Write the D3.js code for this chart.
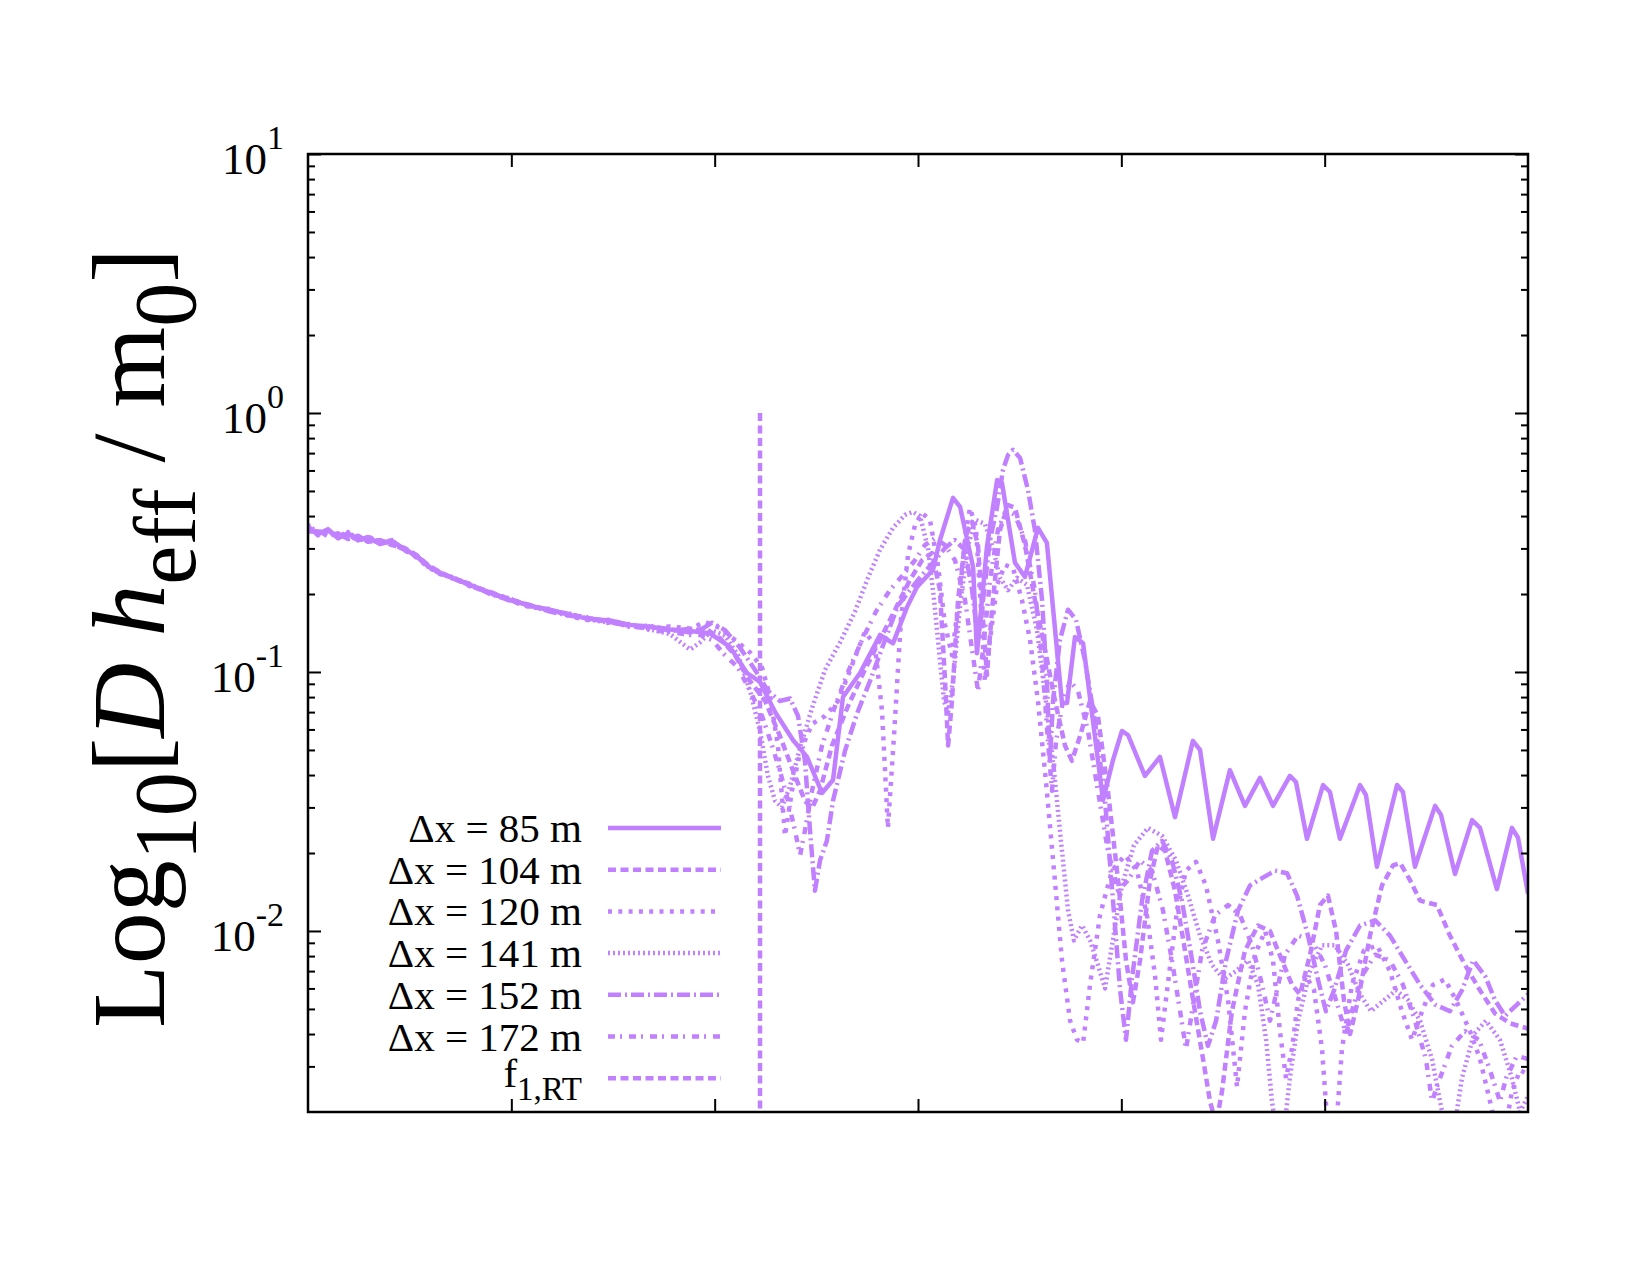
<!DOCTYPE html>
<html>
<head>
<meta charset="utf-8">
<script src="https://cdn.jsdelivr.net/npm/d3@7"></script>
<style>
  body { margin: 0; background: #fff; }
  text { font-family: "Liberation Serif", "Times New Roman", serif; fill: #000; }
</style>
</head>
<body>
<svg id="chart" width="1650" height="1275"></svg>
<script>
// ---- data: [x, D h_eff / m0] ----
const dx85 = [
  [0,0.362],[0.049,0.340],[0.098,0.356],[0.148,0.328],[0.197,0.344],[0.246,0.322],[0.295,0.332],[0.354,0.312],[0.413,0.321],[0.472,0.299],[0.531,0.281],[0.590,0.256],[0.649,0.241],[0.723,0.229],[0.797,0.217],[0.895,0.202],[0.994,0.190],[1.092,0.180],[1.190,0.174],[1.289,0.166],[1.387,0.160],[1.485,0.158],[1.584,0.152],[1.682,0.149],[1.781,0.146],[1.879,0.144],
  [1.977,0.141],[2.075,0.125],[2.159,0.0991],[2.223,0.0915],[2.297,0.0701],[2.385,0.0546],[2.454,0.0470],[2.528,0.0341],[2.582,0.0383],[2.631,0.0801],[2.715,0.0991],[2.813,0.139],[2.877,0.129],[2.946,0.178],[2.995,0.213],[3.074,0.248],[3.108,0.323],[3.172,0.470],[3.207,0.434],[3.271,0.254],[3.290,0.118],[3.339,0.304],[3.389,0.551],[3.413,0.537],[3.477,0.264],[3.526,0.233],[3.590,0.360],[3.634,0.315],[3.708,0.0759],[3.733,0.0759],[3.772,0.1365],[3.812,0.129],[3.910,0.0320],[3.959,0.0457],[4.003,0.0592],[4.033,0.0571],[4.116,0.0397],[4.190,0.0470],[4.264,0.0275],[4.352,0.0542],[4.387,0.0500],[4.451,0.0227],[4.534,0.0418],[4.608,0.0304],[4.682,0.0390],[4.746,0.0304],[4.829,0.0397],[4.859,0.0376],[4.913,0.0227],[4.992,0.0366],[5.026,0.0344],[5.075,0.0227],[5.174,0.0366],[5.203,0.0335],[5.257,0.0177],[5.356,0.0366],[5.385,0.0344],[5.444,0.0177],[5.543,0.0304],[5.572,0.0281],[5.641,0.0166],[5.725,0.0268],[5.764,0.0250],[5.847,0.0145],[5.921,0.0250],[5.951,0.0229],[6.0,0.0139]
];
const dx104 = [
  [0,0.348],[0.049,0.352],[0.098,0.334],[0.148,0.343],[0.197,0.326],[0.246,0.336],[0.295,0.318],[0.354,0.323],[0.413,0.309],[0.472,0.302],[0.531,0.284],[0.590,0.259],[0.649,0.243],[0.723,0.228],[0.797,0.216],[0.895,0.204],[0.994,0.191],[1.092,0.181],[1.190,0.173],[1.289,0.167],[1.387,0.161],[1.485,0.156],[1.584,0.151],[1.682,0.150],[1.781,0.146],[1.879,0.142],
  [1.952,0.148],[2.026,0.135],[2.100,0.116],[2.174,0.0923],[2.248,0.0773],[2.321,0.0566],[2.395,0.0397],[2.444,0.0318],[2.479,0.0298],[2.518,0.0348],[2.577,0.0520],[2.656,0.0739],[2.739,0.102],[2.813,0.133],[2.887,0.174],[2.961,0.227],[3.020,0.270],[3.069,0.288],[3.108,0.207],[3.133,0.0923],[3.148,0.0520],[3.167,0.0773],[3.197,0.190],[3.236,0.338],[3.266,0.380],[3.295,0.309],[3.320,0.159],[3.339,0.0973],[3.364,0.174],[3.403,0.353],[3.443,0.441],[3.477,0.430],[3.526,0.309],[3.575,0.190],[3.625,0.122],[3.674,0.0773],[3.723,0.0520],[3.757,0.0454],[3.797,0.0566],[3.846,0.0773],[3.885,0.0676],[3.934,0.0348],[3.984,0.0157],[4.023,0.0077],[4.057,0.0053],[4.092,0.0077],[4.141,0.0157],[4.180,0.0214],[4.215,0.0204],[4.264,0.0143],[4.313,0.0084],[4.362,0.0049],[4.402,0.0032],[4.436,0.0022],[4.466,0.0018],[4.495,0.0024],[4.544,0.0049],[4.608,0.0084],[4.672,0.0105],[4.731,0.0100],[4.790,0.0077],[4.839,0.0062],[4.879,0.0057],[4.928,0.0081],[4.977,0.0126],[5.016,0.0137],[5.056,0.0100],[5.095,0.0054],[5.125,0.0040],[5.164,0.0054],[5.223,0.0096],[5.282,0.0150],[5.336,0.0179],[5.371,0.0183],[5.420,0.0157],[5.469,0.0131],[5.552,0.0126],[5.616,0.0096],[5.690,0.0074],[5.764,0.0059],[5.838,0.0048],[5.912,0.0044],[6.0,0.0042]
];
const dx120 = [
  [0,0.366],[0.049,0.337],[0.098,0.351],[0.148,0.331],[0.197,0.341],[0.246,0.320],[0.295,0.334],[0.354,0.315],[0.413,0.323],[0.472,0.296],[0.531,0.278],[0.590,0.254],[0.649,0.239],[0.723,0.231],[0.797,0.214],[0.895,0.203],[0.994,0.188],[1.092,0.178],[1.190,0.175],[1.289,0.164],[1.387,0.158],[1.485,0.159],[1.584,0.150],[1.682,0.147],[1.781,0.150],[1.879,0.147],
  [1.952,0.156],[2.026,0.148],[2.100,0.133],[2.174,0.119],[2.233,0.104],[2.272,0.0808],[2.311,0.0520],[2.346,0.0233],[2.380,0.0348],[2.420,0.0491],[2.479,0.0630],[2.543,0.0676],[2.607,0.0773],[2.675,0.106],[2.739,0.143],[2.788,0.127],[2.823,0.0707],[2.852,0.0250],[2.882,0.0566],[2.916,0.159],[2.951,0.283],[2.985,0.369],[3.020,0.411],[3.059,0.386],[3.098,0.259],[3.133,0.152],[3.167,0.116],[3.207,0.207],[3.236,0.353],[3.256,0.430],[3.285,0.360],[3.310,0.174],[3.329,0.0923],[3.354,0.133],[3.389,0.217],[3.428,0.259],[3.467,0.252],[3.511,0.190],[3.551,0.133],[3.590,0.0773],[3.629,0.0380],[3.669,0.0171],[3.708,0.0077],[3.748,0.0045],[3.782,0.0038],[3.812,0.0037],[3.846,0.0062],[3.895,0.0115],[3.954,0.0171],[4.018,0.0196],[4.077,0.0171],[4.126,0.0115],[4.166,0.0067],[4.195,0.0038],[4.225,0.0059],[4.274,0.0120],[4.318,0.0171],[4.367,0.0185],[4.416,0.0150],[4.475,0.0092],[4.525,0.0054],[4.569,0.0025],[4.608,0.0049],[4.657,0.0081],[4.707,0.0100],[4.746,0.0077],[4.780,0.0041],[4.810,0.0027],[4.839,0.0035],[4.869,0.0054],[4.908,0.0067],[4.948,0.0059],[4.987,0.0035],[5.016,0.0017],[5.056,0.0017],[5.085,0.0035],[5.134,0.0062],[5.193,0.0084],[5.257,0.0088],[5.321,0.0070],[5.380,0.0049],[5.430,0.0038],[5.479,0.0049],[5.533,0.0062],[5.592,0.0065],[5.646,0.0054],[5.715,0.0041],[5.764,0.0032],[5.813,0.0022],[5.847,0.0017],[5.887,0.0017],[5.921,0.0024],[5.961,0.0029],[6.0,0.0028]
];
const dx141 = [
  [0,0.370],[0.049,0.345],[0.098,0.354],[0.148,0.334],[0.197,0.347],[0.246,0.327],[0.295,0.323],[0.354,0.319],[0.413,0.312],[0.472,0.300],[0.531,0.279],[0.590,0.257],[0.649,0.240],[0.723,0.229],[0.797,0.218],[0.895,0.201],[0.994,0.192],[1.092,0.179],[1.190,0.172],[1.289,0.168],[1.387,0.159],[1.485,0.155],[1.584,0.153],[1.682,0.146],[1.781,0.140],[1.879,0.122],
  [1.928,0.130],[1.987,0.145],[2.051,0.138],[2.115,0.116],[2.174,0.0845],[2.223,0.0592],[2.262,0.0397],[2.297,0.0318],[2.331,0.0300],[2.371,0.0363],[2.420,0.0509],[2.479,0.0726],[2.543,0.102],[2.616,0.130],[2.690,0.171],[2.754,0.231],[2.813,0.296],[2.877,0.360],[2.936,0.404],[2.975,0.415],[3.010,0.400],[3.049,0.301],[3.079,0.190],[3.108,0.111],[3.128,0.0773],[3.148,0.0701],[3.172,0.0923],[3.207,0.181],[3.246,0.309],[3.285,0.386],[3.329,0.373],[3.369,0.301],[3.403,0.231],[3.443,0.207],[3.487,0.231],[3.536,0.217],[3.585,0.145],[3.629,0.0773],[3.669,0.0415],[3.708,0.0204],[3.738,0.0120],[3.767,0.0092],[3.807,0.0105],[3.846,0.0092],[3.885,0.0074],[3.920,0.0060],[3.954,0.0088],[4.003,0.0150],[4.062,0.0214],[4.131,0.0250],[4.200,0.0233],[4.269,0.0187],[4.328,0.0137],[4.387,0.0096],[4.446,0.0074],[4.505,0.0065],[4.564,0.0070],[4.623,0.0077],[4.672,0.0062],[4.712,0.0038],[4.741,0.0022],[4.761,0.0017],[4.800,0.0017],[4.829,0.0027],[4.869,0.0045],[4.928,0.0070],[4.987,0.0088],[5.051,0.0088],[5.115,0.0074],[5.174,0.0057],[5.228,0.0049],[5.292,0.0054],[5.351,0.0059],[5.410,0.0054],[5.469,0.0045],[5.528,0.0032],[5.567,0.0022],[5.597,0.0017],[5.636,0.0017],[5.675,0.0027],[5.734,0.0040],[5.793,0.0045],[5.862,0.0038],[5.921,0.0027],[5.961,0.0020],[6.0,0.0023]
];
const dx152 = [
  [0,0.352],[0.049,0.349],[0.098,0.342],[0.148,0.341],[0.197,0.333],[0.246,0.333],[0.295,0.322],[0.354,0.322],[0.413,0.313],[0.472,0.297],[0.531,0.282],[0.590,0.258],[0.649,0.242],[0.723,0.227],[0.797,0.219],[0.895,0.200],[0.994,0.189],[1.092,0.181],[1.190,0.171],[1.289,0.165],[1.387,0.161],[1.485,0.157],[1.584,0.149],[1.682,0.151],[1.781,0.144],[1.879,0.147],
  [1.928,0.145],[1.987,0.155],[2.051,0.145],[2.125,0.124],[2.198,0.102],[2.262,0.0845],[2.321,0.0773],[2.371,0.0790],[2.410,0.0676],[2.444,0.0454],[2.469,0.0244],[2.493,0.0143],[2.518,0.0187],[2.552,0.0223],[2.582,0.0318],[2.641,0.0496],[2.700,0.0690],[2.764,0.0923],[2.838,0.133],[2.902,0.181],[2.961,0.207],[3.020,0.237],[3.084,0.270],[3.133,0.301],[3.182,0.323],[3.231,0.296],[3.266,0.207],[3.295,0.133],[3.320,0.190],[3.354,0.323],[3.389,0.434],[3.418,0.603],[3.443,0.689],[3.467,0.720],[3.502,0.670],[3.541,0.504],[3.575,0.353],[3.610,0.190],[3.634,0.0923],[3.649,0.0454],[3.664,0.0773],[3.698,0.133],[3.738,0.174],[3.777,0.159],[3.821,0.111],[3.870,0.0647],[3.920,0.0318],[3.959,0.0131],[3.994,0.0059],[4.023,0.0038],[4.052,0.0065],[4.102,0.0131],[4.151,0.0204],[4.200,0.0223],[4.249,0.0187],[4.298,0.0131],[4.348,0.0077],[4.387,0.0049],[4.426,0.0036],[4.466,0.0045],[4.515,0.0077],[4.574,0.0120],[4.633,0.0150],[4.692,0.0160],[4.756,0.0171],[4.815,0.0167],[4.864,0.0137],[4.918,0.0096],[4.967,0.0065],[5.006,0.0049],[5.046,0.0059],[5.105,0.0084],[5.174,0.0105],[5.248,0.0110],[5.321,0.0096],[5.395,0.0077],[5.469,0.0062],[5.543,0.0052],[5.616,0.0049],[5.675,0.0059],[5.730,0.0077],[5.789,0.0067],[5.838,0.0054],[5.887,0.0047],[5.946,0.0052],[6.0,0.0057]
];
const dx172 = [
  [0,0.360],[0.049,0.338],[0.098,0.352],[0.148,0.330],[0.197,0.340],[0.246,0.324],[0.295,0.331],[0.354,0.313],[0.413,0.322],[0.472,0.298],[0.531,0.283],[0.590,0.255],[0.649,0.240],[0.723,0.230],[0.797,0.215],[0.895,0.203],[0.994,0.189],[1.092,0.179],[1.190,0.174],[1.289,0.165],[1.387,0.162],[1.485,0.154],[1.584,0.153],[1.682,0.145],[1.781,0.143],[1.879,0.139],
  [1.928,0.139],[1.987,0.133],[2.051,0.116],[2.115,0.104],[2.174,0.0845],[2.233,0.0676],[2.282,0.0520],[2.321,0.0415],[2.361,0.0318],[2.395,0.0244],[2.420,0.0196],[2.444,0.0244],[2.479,0.0348],[2.528,0.0520],[2.592,0.0739],[2.656,0.100],[2.725,0.133],[2.793,0.171],[2.862,0.207],[2.926,0.237],[2.985,0.270],[3.034,0.309],[3.084,0.329],[3.133,0.309],[3.182,0.270],[3.231,0.190],[3.266,0.122],[3.295,0.0845],[3.320,0.122],[3.354,0.227],[3.393,0.353],[3.433,0.422],[3.477,0.404],[3.526,0.323],[3.575,0.207],[3.610,0.111],[3.639,0.0542],[3.659,0.0348],[3.679,0.0542],[3.713,0.0773],[3.748,0.0923],[3.787,0.0845],[3.836,0.0592],[3.885,0.0348],[3.934,0.0204],[3.984,0.0143],[4.033,0.0157],[4.092,0.0187],[4.151,0.0171],[4.205,0.0120],[4.249,0.0077],[4.289,0.0049],[4.318,0.0035],[4.348,0.0049],[4.397,0.0084],[4.461,0.0115],[4.525,0.0126],[4.584,0.0115],[4.643,0.0088],[4.692,0.0062],[4.731,0.0045],[4.761,0.0057],[4.805,0.0081],[4.869,0.0096],[4.938,0.0092],[5.001,0.0074],[5.056,0.0054],[5.105,0.0040],[5.134,0.0049],[5.184,0.0067],[5.248,0.0081],[5.321,0.0077],[5.385,0.0062],[5.444,0.0045],[5.498,0.0032],[5.528,0.0022],[5.567,0.0027],[5.626,0.0036],[5.690,0.0041],[5.759,0.0038],[5.813,0.0029],[5.862,0.0022],[5.892,0.0027],[5.946,0.0033],[6.0,0.0032]
];
const f1rtX = 2.223;
const f1rtY = [1, 0.002];

const seriesNames = ["85", "104", "120", "141", "152", "172"];
const seriesData = [dx85, dx104, dx120, dx141, dx152, dx172];

const yMajor = [0.01, 0.1, 1, 10];
const yTickExp = ["-2", "-1", "0", "1"];
const xTicks = [1, 2, 3, 4, 5];

// ---- styles ----
const purple = "#c080ff";
const dashes = [null, "8,4.5", "4,6.3", "2,3", "13,4,2,4", "7,5,2,7"];
const f1rtDash = "8,4.5";

const svg = d3.select("#chart");
svg.append("rect").attr("width", 1650).attr("height", 1275).attr("fill", "#fff");

const x = d3.scaleLinear().domain([0, 6]).range([308, 1528]);
const y = d3.scaleLog().domain([0.002, 10]).range([1112, 154]);

svg.append("defs").append("clipPath").attr("id", "plotClip")
  .append("rect")
  .attr("x", x(0)).attr("y", y(10))
  .attr("width", x(6) - x(0)).attr("height", y(0.002) - y(10));

const line = d3.line().x(d => x(d[0])).y(d => y(d[1]));
const plot = svg.append("g").attr("clip-path", "url(#plotClip)");

seriesData.forEach((data, i) => {
  plot.append("path")
    .datum(data)
    .attr("d", line)
    .attr("fill", "none")
    .attr("stroke", purple)
    .attr("stroke-width", 4.5)
    .attr("stroke-linejoin", "round")
    .attr("stroke-dasharray", dashes[i]);
});

// f1,RT marker
plot.append("path")
  .datum(f1rtY.map(v => [f1rtX, v]))
  .attr("d", line)
  .attr("fill", "none")
  .attr("stroke", purple)
  .attr("stroke-width", 4.5)
  .attr("stroke-dasharray", f1rtDash);

// ---- axes ----
const yMinor = [];
[0.001, 0.01, 0.1, 1].forEach(dec => {
  for (let k = 2; k <= 9; k++) {
    const v = k * dec;
    if (v > 0.0021 && v < 10) yMinor.push(v);
  }
});

function styleAxis(g) {
  g.select(".domain").remove();
  g.selectAll(".tick line").attr("stroke", "#000").attr("stroke-width", 2);
  g.selectAll(".tick text").remove();
}

svg.append("g").attr("transform", `translate(${x(0)},0)`)
  .call(d3.axisLeft(y).tickValues(yMajor).tickSize(-13).tickSizeOuter(0).tickFormat("")).call(styleAxis);
svg.append("g").attr("transform", `translate(${x(0)},0)`)
  .call(d3.axisLeft(y).tickValues(yMinor).tickSize(-7).tickSizeOuter(0).tickFormat("")).call(styleAxis);
svg.append("g").attr("transform", `translate(${x(6)},0)`)
  .call(d3.axisRight(y).tickValues(yMajor).tickSize(-13).tickSizeOuter(0).tickFormat("")).call(styleAxis);
svg.append("g").attr("transform", `translate(${x(6)},0)`)
  .call(d3.axisRight(y).tickValues(yMinor).tickSize(-7).tickSizeOuter(0).tickFormat("")).call(styleAxis);
svg.append("g").attr("transform", `translate(0,${y(0.002)})`)
  .call(d3.axisBottom(x).tickValues(xTicks).tickSize(-13).tickSizeOuter(0).tickFormat("")).call(styleAxis);
svg.append("g").attr("transform", `translate(0,${y(10)})`)
  .call(d3.axisTop(x).tickValues(xTicks).tickSize(-13).tickSizeOuter(0).tickFormat("")).call(styleAxis);

// frame
svg.append("rect")
  .attr("x", x(0)).attr("y", y(10))
  .attr("width", x(6) - x(0)).attr("height", y(0.002) - y(10))
  .attr("fill", "none").attr("stroke", "#000").attr("stroke-width", 2.5);

// y tick labels 10^n
svg.append("g").selectAll("text").data(yMajor).join("text")
  .attr("x", x(0) - 24)
  .attr("y", d => y(d) + 20)
  .attr("text-anchor", "end")
  .attr("font-size", 45)
  .each(function(d, i) {
    const t = d3.select(this);
    t.append("tspan").text("10");
    t.append("tspan").attr("dy", -25).attr("font-size", 34).text(yTickExp[i]);
  });

// y axis title
const title = svg.append("text")
  .attr("transform", "translate(164,638) rotate(-90)")
  .attr("text-anchor", "middle")
  .attr("font-size", 104);
title.append("tspan").text("Log");
title.append("tspan").attr("dy", 31).attr("font-size", 88).text("10");
title.append("tspan").attr("dy", -31).text("[");
title.append("tspan").attr("font-style", "italic").text("D h");
title.append("tspan").attr("dy", 31).attr("font-size", 88).text("eff");
title.append("tspan").attr("dy", -31).text(" / m");
title.append("tspan").attr("dy", 31).attr("font-size", 88).text("0");
title.append("tspan").attr("dy", -31).text("]");

// ---- legend ----
const legRowY = d3.range(7).map(i => 828 + i * 41.7);
const legend = svg.append("g");
seriesNames.forEach((name, i) => {
  legend.append("text")
    .attr("x", 582).attr("y", legRowY[i] + 14)
    .attr("text-anchor", "end").attr("font-size", 41)
    .text(`Δx = ${name} m`);
  legend.append("line")
    .attr("x1", 608).attr("x2", 721)
    .attr("y1", legRowY[i]).attr("y2", legRowY[i])
    .attr("stroke", purple).attr("stroke-width", 4.5)
    .attr("stroke-dasharray", dashes[i]);
});
const fLabel = legend.append("text")
  .attr("x", 582).attr("y", legRowY[6] + 9)
  .attr("text-anchor", "end").attr("font-size", 41);
fLabel.append("tspan").text("f");
fLabel.append("tspan").attr("dy", 13).attr("font-size", 33).text("1,RT");
legend.append("line")
  .attr("x1", 608).attr("x2", 721)
  .attr("y1", legRowY[6]).attr("y2", legRowY[6])
  .attr("stroke", purple).attr("stroke-width", 4.5)
  .attr("stroke-dasharray", f1rtDash);
</script>
</body>
</html>
